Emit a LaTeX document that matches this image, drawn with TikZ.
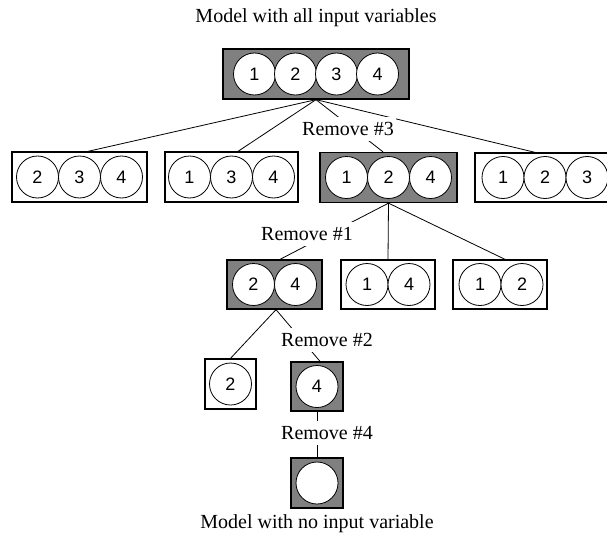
\documentclass[tikz,border=0pt]{standalone}
\usepackage{fontspec}
\setmainfont{Liberation Serif}
\newfontfamily\digfont{Liberation Sans}
\begin{document}
\begin{tikzpicture}[x=1pt,y=-1pt,
  box/.style={draw, line width=1.3pt, minimum height=50pt, inner sep=0pt, fill=white},
  sel/.style={box, fill=black!50},
  var/.style={circle, draw, line width=0.8pt, minimum size=42pt, inner sep=0pt, fill=white, font=\digfont\fontsize{18}{20}\selectfont},
  lab/.style={fill=white, inner xsep=2pt, inner ysep=5pt, font=\fontsize{20}{22}\selectfont},
  ttl/.style={inner sep=0pt, font=\fontsize{20}{22}\selectfont},
  edge/.style={line width=0.8pt}]
\useasboundingbox (0,0) rectangle (607,535);
\clip (0,0) rectangle (607,535);
\fill[white] (0,0) rectangle (607,535);

% titles
\node[ttl] (t1) at (316,18) {Model with all input variables};
\node[ttl] (t2) at (317,524) {Model with no input variable};

% top box
\node[sel, minimum width=186pt] (top) at (316,74) {};
\node[var] (a1) at (254.5,74) {1};
\node[var] (a2) at (295.5,74) {2};
\node[var] (a3) at (336.5,74) {3};
\node[var] (a4) at (377.5,74) {4};

% row 2
\node[box, minimum width=135pt] (b1) at (79.5,177) {};
\node[var] (b1x) at (37.5,177) {2};
\node[var] (b1y) at (79.5,177) {3};
\node[var] (b1z) at (121.5,177) {4};

\node[box, minimum width=133pt] (b2) at (231.5,177) {};
\node[var] (b2x) at (189.5,177) {1};
\node[var] (b2y) at (231.5,177) {3};
\node[var] (b2z) at (273.5,177) {4};

\node[sel, minimum width=137pt] (b3) at (388.5,177.5) {};
\node[var] (b3x) at (346.5,177.5) {1};
\node[var] (b3y) at (388.5,177.5) {2};
\node[var] (b3z) at (430.5,177.5) {4};

\node[box, minimum width=135pt, minimum height=49pt] (b4) at (542.5,177.5) {};
\node[var] (b4x) at (503,177.5) {1};
\node[var] (b4y) at (545,177.5) {2};
\node[var] (b4z) at (587,177.5) {3};

% row 3
\node[sel, minimum width=95pt, minimum height=49pt] (cA) at (274.5,284.5) {};
\node[var] (cAx) at (253.5,284.5) {2};
\node[var] (cAy) at (295.5,284.5) {4};

\node[box, minimum width=94pt, minimum height=49pt] (cB) at (388,284.5) {};
\node[var] (cBx) at (367,284.5) {1};
\node[var] (cBy) at (409,284.5) {4};

\node[box, minimum width=94pt, minimum height=49pt] (cC) at (500,284.5) {};
\node[var] (cCx) at (480,284.5) {1};
\node[var] (cCy) at (522,284.5) {2};

% row 4
\node[box, minimum width=51pt] (d2) at (230.5,384) {};
\node[var] (d2x) at (230.5,384) {2};
\node[sel, minimum width=52pt, minimum height=49pt] (d4) at (317,386.5) {};
\node[var] (d4x) at (317,386.5) {4};

% bottom
\node[sel, minimum width=52pt] (e) at (317,483) {};
\node[var] (ex) at (317,483) {};

% edges
\draw[edge] (top.south) -- ([xshift=8.5pt]b1.north);
\draw[edge] (top.south) -- ([xshift=6.5pt]b2.north);
\draw[edge] (top.south) -- ([xshift=-5.5pt]b3.north);
\draw[edge] (top.south) -- ([xshift=-7.5pt]b4.north);
\draw[edge] (b3.south) -- ([xshift=5.5pt]cA.north);
\draw[edge] (b3.south) -- (cB.north);
\draw[edge] (b3.south) -- ([xshift=5pt]cC.north);
\draw[edge] ([xshift=1.5pt]cA.south) -- (d2.north);
\draw[edge] ([xshift=1.5pt]cA.south) -- ([xshift=3pt]d4.north);
\draw[edge] (d4.south) -- (e.north);

% labels
\node[lab] (r3) at (348,129) {Remove \#3};
\node[lab] (r1) at (307,234) {Remove \#1};
\node[lab] (r2) at (327,340) {Remove \#2};
\node[lab] (r4) at (327,433) {Remove \#4};
\end{tikzpicture}
\end{document}
